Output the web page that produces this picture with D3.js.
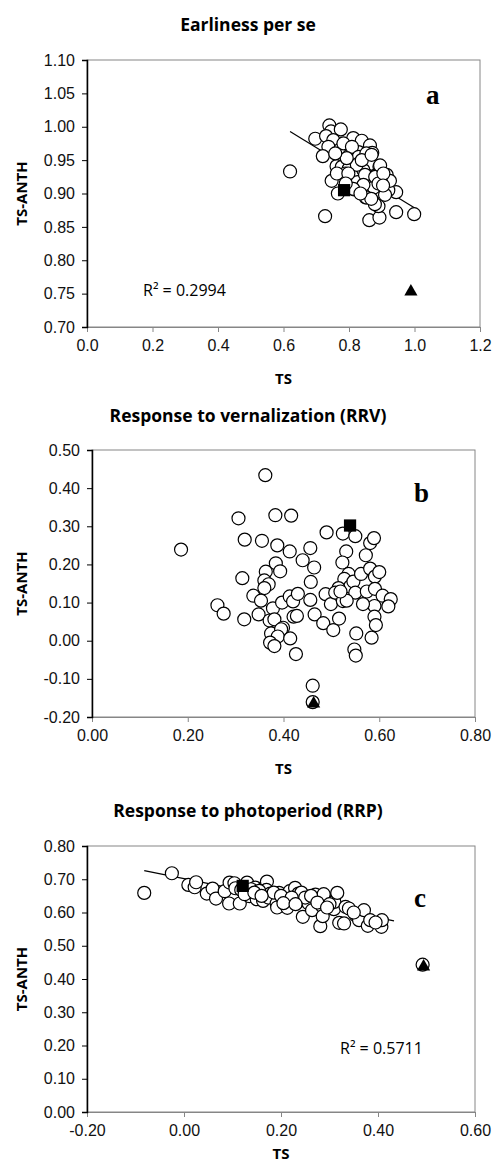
<!DOCTYPE html>
<html>
<head>
<meta charset="utf-8">
<script src="https://cdn.jsdelivr.net/npm/d3@7/dist/d3.min.js"></script>
<style>
  html, body { margin: 0; padding: 0; background: #fff; }
  svg { display: block; font-family: "Open Sans", "Liberation Sans", sans-serif; }
  .tick text { font-size: 16px; fill: #111; }
  .title { font-size: 17.5px; font-weight: bold; }
  .axis-title { font-size: 15px; font-weight: bold; }
  .letter { font-family: "Liberation Serif", serif; font-size: 27px; font-weight: bold; }
  .r2 { font-size: 16px; }
</style>
</head>
<body>
<svg id="chart" width="493" height="1169"></svg>
<script>
// panel a: Earliness per se  [TS, TS-ANTH]
const ptsA = [
  [0.620, 0.933], [0.727, 0.866], [0.999, 0.869], [0.862, 0.860], [0.893, 0.864],
  [0.944, 0.872], [0.890, 0.881], [0.944, 0.902], [0.920, 0.905], [0.740, 1.002],
  [0.745, 0.993], [0.775, 0.996], [0.697, 0.982], [0.730, 0.986], [0.752, 0.980],
  [0.737, 0.970], [0.720, 0.956], [0.773, 0.966], [0.813, 0.983], [0.839, 0.979],
  [0.864, 0.972], [0.871, 0.961], [0.783, 0.975], [0.801, 0.957], [0.829, 0.962],
  [0.809, 0.970], [0.830, 0.955], [0.853, 0.960], [0.830, 0.945], [0.864, 0.944],
  [0.893, 0.940], [0.879, 0.926], [0.915, 0.928], [0.925, 0.919], [0.762, 0.941],
  [0.778, 0.940], [0.747, 0.919], [0.766, 0.900], [0.817, 0.925], [0.816, 0.906],
  [0.853, 0.928], [0.851, 0.894], [0.876, 0.900], [0.876, 0.909], [0.879, 0.884],
  [0.799, 0.937], [0.789, 0.930], [0.844, 0.935], [0.898, 0.917], [0.826, 0.917],
  [0.824, 0.943], [0.849, 0.928], [0.880, 0.925], [0.763, 0.930], [0.798, 0.930],
  [0.844, 0.913], [0.890, 0.915], [0.910, 0.898], [0.813, 0.907], [0.854, 0.894],
  [0.793, 0.953], [0.839, 0.950], [0.869, 0.958], [0.895, 0.942], [0.905, 0.930],
  [0.868, 0.892], [0.904, 0.912], [0.758, 0.960], [0.790, 0.915], [0.835, 0.900]
];
const squareA = [0.785, 0.905];
const triangleA = [0.989, 0.753];
const trendA = [[0.620, 0.993], [1.002, 0.878]];

// panel b: Response to vernalization (RRV)
const ptsB = [
  [0.362, 0.434], [0.186, 0.239], [0.306, 0.321], [0.383, 0.329], [0.416, 0.328],
  [0.319, 0.265], [0.355, 0.262], [0.387, 0.250], [0.413, 0.234], [0.314, 0.164],
  [0.384, 0.203], [0.363, 0.181], [0.393, 0.182], [0.360, 0.158], [0.369, 0.148],
  [0.360, 0.138], [0.262, 0.093], [0.275, 0.071], [0.337, 0.118], [0.353, 0.105],
  [0.318, 0.056], [0.348, 0.069], [0.371, 0.053], [0.378, 0.085], [0.397, 0.100],
  [0.413, 0.116], [0.420, 0.103], [0.430, 0.123], [0.421, 0.063], [0.428, 0.065],
  [0.381, 0.056], [0.374, 0.019], [0.399, 0.034], [0.395, 0.030], [0.388, 0.011],
  [0.372, -0.005], [0.381, -0.014], [0.414, 0.006], [0.426, -0.035], [0.461, -0.118],
  [0.461, -0.161], [0.440, 0.211], [0.456, 0.243], [0.464, 0.192], [0.457, 0.154],
  [0.456, 0.107], [0.465, 0.069], [0.483, 0.046], [0.504, 0.028], [0.490, 0.284],
  [0.488, 0.122], [0.499, 0.096], [0.516, 0.058], [0.524, 0.281], [0.550, 0.274],
  [0.531, 0.234], [0.523, 0.205], [0.536, 0.175], [0.527, 0.162], [0.539, 0.142],
  [0.546, 0.155], [0.515, 0.138], [0.508, 0.126], [0.524, 0.104], [0.550, 0.126],
  [0.562, 0.175], [0.572, 0.224], [0.581, 0.256], [0.589, 0.269], [0.581, 0.189],
  [0.591, 0.168], [0.600, 0.180], [0.574, 0.129], [0.591, 0.136], [0.607, 0.118],
  [0.624, 0.109], [0.619, 0.090], [0.590, 0.091], [0.566, 0.096], [0.590, 0.063],
  [0.593, 0.041], [0.584, 0.008], [0.552, 0.019], [0.548, -0.023], [0.551, -0.039],
  [0.532, 0.105], [0.519, 0.129]
];
const squareB = [0.539, 0.302];
const triangleB = [0.463, -0.165];

// panel c: Response to photoperiod (RRP)
const ptsC = [
  [-0.082, 0.659], [-0.025, 0.718], [0.009, 0.683], [0.022, 0.676], [0.025, 0.691],
  [0.047, 0.657], [0.059, 0.672], [0.066, 0.642], [0.084, 0.664], [0.094, 0.690],
  [0.093, 0.627], [0.104, 0.688], [0.115, 0.627], [0.106, 0.673], [0.130, 0.690],
  [0.135, 0.649], [0.147, 0.675], [0.150, 0.640], [0.164, 0.672], [0.171, 0.693],
  [0.170, 0.668], [0.163, 0.635], [0.178, 0.657], [0.174, 0.645], [0.196, 0.659],
  [0.191, 0.627], [0.192, 0.615], [0.210, 0.642], [0.213, 0.614], [0.218, 0.664],
  [0.229, 0.674], [0.236, 0.657], [0.235, 0.632], [0.242, 0.660], [0.245, 0.587],
  [0.257, 0.627], [0.264, 0.607], [0.271, 0.654], [0.281, 0.559], [0.284, 0.620],
  [0.286, 0.589], [0.290, 0.647], [0.288, 0.655], [0.309, 0.610], [0.310, 0.632],
  [0.316, 0.659], [0.320, 0.569], [0.330, 0.567], [0.333, 0.617], [0.340, 0.612],
  [0.354, 0.592], [0.361, 0.577], [0.371, 0.607], [0.379, 0.560], [0.384, 0.577],
  [0.407, 0.557], [0.408, 0.577], [0.492, 0.443], [0.138, 0.670], [0.155, 0.665],
  [0.185, 0.660], [0.200, 0.650], [0.222, 0.645], [0.250, 0.645], [0.262, 0.650],
  [0.275, 0.630], [0.300, 0.625], [0.118, 0.668], [0.125, 0.655], [0.145, 0.660],
  [0.205, 0.628], [0.295, 0.615], [0.350, 0.600], [0.395, 0.570], [0.230, 0.625],
  [0.160, 0.650]
];
const squareC = [0.121, 0.680];
const triangleC = [0.494, 0.437];
const trendC = [[-0.082, 0.726], [0.433, 0.575]];

const xTicksA = [0, 0.2, 0.4, 0.6, 0.8, 1.0, 1.2];
const yTicksA = [0.70, 0.75, 0.80, 0.85, 0.90, 0.95, 1.00, 1.05, 1.10];
const xTicksB = [0, 0.2, 0.4, 0.6, 0.8];
const yTicksB = [-0.2, -0.1, 0, 0.1, 0.2, 0.3, 0.4, 0.5];
const xTicksC = [-0.2, 0, 0.2, 0.4, 0.6];
const yTicksC = [0, 0.1, 0.2, 0.3, 0.4, 0.5, 0.6, 0.7, 0.8];

const svg = d3.select('#chart');

function fmt(digits) {
  const f = d3.format(`.${digits}f`);
  return (v) => f(v).replace('\u2212', '-');
}

function panel(cfg) {
  const {
    box, xDomain, yDomain, xTicks, yTicks, xDigits, yDigits,
  } = cfg;
  const x = d3.scaleLinear().domain(xDomain).range([box.left, box.right]);
  const y = d3.scaleLinear().domain(yDomain).range([box.bottom, box.top]);
  const g = svg.append('g');

  // plot frame (top/right in grey)
  g.append('rect')
    .attr('x', box.left).attr('y', box.top)
    .attr('width', box.right - box.left).attr('height', box.bottom - box.top)
    .attr('fill', 'none').attr('stroke', '#868686').attr('stroke-width', 1);

  const ax = g.append('g')
    .attr('transform', `translate(0,${box.bottom})`)
    .call(d3.axisBottom(x).tickValues(xTicks).tickFormat(fmt(xDigits)).tickSize(5).tickPadding(8));
  ax.select('.domain').attr('stroke', '#868686');
  ax.selectAll('.tick line').attr('stroke', '#868686');

  const ay = g.append('g')
    .attr('transform', `translate(${box.left},0)`)
    .call(d3.axisLeft(y).tickValues(yTicks).tickFormat(fmt(yDigits)).tickSize(5).tickPadding(7));
  ay.select('.domain').attr('stroke', '#000').attr('stroke-width', 1.5);

  // titles
  g.append('text').attr('class', 'title')
    .attr('x', 248).attr('y', cfg.titleY).attr('text-anchor', 'middle').text(cfg.title);
  g.append('text').attr('class', 'axis-title')
    .attr('x', (box.left + box.right) / 2).attr('y', cfg.xTitleY)
    .attr('text-anchor', 'middle').text('TS');
  g.append('text').attr('class', 'axis-title')
    .attr('transform', `translate(27,${(box.top + box.bottom) / 2}) rotate(-90)`)
    .attr('text-anchor', 'middle').text('TS-ANTH');

  if (cfg.trend) {
    g.append('line')
      .attr('x1', x(cfg.trend[0][0])).attr('y1', y(cfg.trend[0][1]))
      .attr('x2', x(cfg.trend[1][0])).attr('y2', y(cfg.trend[1][1]))
      .attr('stroke', '#000').attr('stroke-width', 1.2);
  }

  g.append('g').selectAll('circle')
    .data(cfg.pts)
    .join('circle')
    .attr('cx', (d) => x(d[0]))
    .attr('cy', (d) => y(d[1]))
    .attr('r', 6.5)
    .attr('fill', '#fff')
    .attr('stroke', '#000')
    .attr('stroke-width', 1.2);

  g.append('path')
    .attr('d', d3.symbol(d3.symbolSquare, 150)())
    .attr('transform', `translate(${x(cfg.square[0])},${y(cfg.square[1])})`)
    .attr('fill', '#000');
  g.append('path')
    .attr('d', d3.symbol(d3.symbolTriangle, 75)())
    .attr('transform', `translate(${x(cfg.triangle[0])},${y(cfg.triangle[1])})`)
    .attr('fill', '#000');

  g.append('text').attr('class', 'letter')
    .attr('x', cfg.letterPos[0]).attr('y', cfg.letterPos[1]).text(cfg.letter);

  if (cfg.r2) {
    g.append('text').attr('class', 'r2')
      .attr('x', cfg.r2Pos[0]).attr('y', cfg.r2Pos[1]).text(cfg.r2);
  }
}

panel({
  box: { left: 87, top: 60, right: 480, bottom: 327 },
  xDomain: [0, 1.2], yDomain: [0.70, 1.10],
  xTicks: xTicksA, yTicks: yTicksA, xDigits: 1, yDigits: 2,
  title: 'Earliness per se', titleY: 31, xTitleY: 384,
  pts: ptsA, square: squareA, triangle: triangleA, trend: trendA,
  letter: 'a', letterPos: [426, 104],
  r2: 'R² = 0.2994', r2Pos: [143, 296],
});

panel({
  box: { left: 92, top: 450, right: 475, bottom: 717 },
  xDomain: [0, 0.8], yDomain: [-0.2, 0.5],
  xTicks: xTicksB, yTicks: yTicksB, xDigits: 2, yDigits: 2,
  title: 'Response to vernalization (RRV)', titleY: 422, xTitleY: 774,
  pts: ptsB, square: squareB, triangle: triangleB,
  letter: 'b', letterPos: [414, 502],
  });

panel({
  box: { left: 87, top: 846, right: 475, bottom: 1112 },
  xDomain: [-0.2, 0.6], yDomain: [0, 0.8],
  xTicks: xTicksC, yTicks: yTicksC, xDigits: 2, yDigits: 2,
  title: 'Response to photoperiod (RRP)', titleY: 817, xTitleY: 1159,
  pts: ptsC, square: squareC, triangle: triangleC, trend: trendC,
  letter: 'c', letterPos: [414, 907],
  r2: 'R² = 0.5711', r2Pos: [340, 1054],
});
</script>
</body>
</html>
